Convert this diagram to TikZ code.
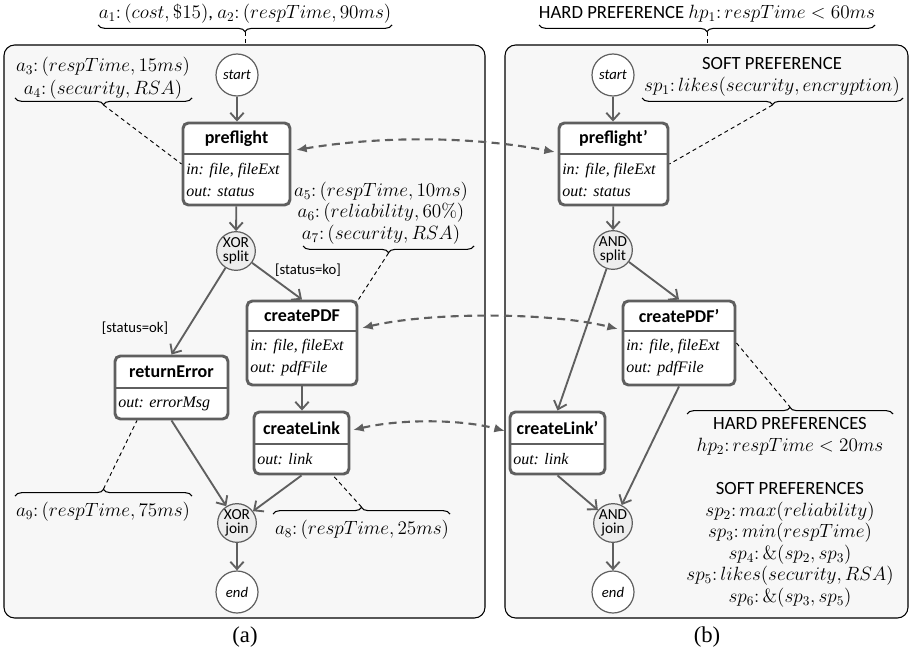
\documentclass[tikz,border=0pt]{standalone}
\usepackage[no-math]{fontspec}
\setmainfont{Carlito}
\newfontfamily\tms{Liberation Serif}
\usetikzlibrary{arrows.meta,decorations.pathreplacing,fit,calc}
\definecolor{dg}{HTML}{5F5F5F}
\definecolor{panelc}{HTML}{F7F7F7}
\definecolor{gatec}{HTML}{EDEDED}
\newcommand{\prm}{{\char"27}}
\tikzset{
 panelbox/.style={draw=black, line width=0.8pt, fill=panelc, rounded corners=8pt, inner sep=0pt},
 svc/.style={draw=dg, line width=2.2pt, fill=white, rounded corners=4pt, inner sep=0pt},
 sepline/.style={draw=dg, line width=1.5pt},
 svctitle/.style={font=\fontsize{13.5}{15}\selectfont\bfseries, inner sep=0pt},
 svcbody/.style={font=\tms\itshape\fontsize{12}{16.5}\selectfont, align=left, anchor=west, inner sep=0pt},
 eventc/.style={circle, draw=dg, line width=0.9pt, fill=white, minimum size=31.5pt, inner sep=0pt, font=\fontsize{11}{12}\selectfont\itshape},
 gatenode/.style={circle, draw=dg, line width=0.9pt, fill=gatec, minimum size=29pt, inner sep=0pt, align=center, font=\fontsize{11.5}{10.5}\selectfont},
 flow/.style={draw=dg, line width=1.4pt, -{Straight Barb[length=5.5pt,width=10pt,line width=1.4pt]}},
 linkarrow/.style={draw=dg, line width=1.6pt, dash pattern=on 6pt off 4pt, {Latex[length=8pt,width=6.5pt]}-{Latex[length=8pt,width=6.5pt]}},
 annot/.style={draw=black, line width=0.7pt, dash pattern=on 3pt off 2.5pt},
 bracedown/.style={draw=black, decorate, decoration={brace, mirror, amplitude=5pt}, line width=0.8pt},
 braceup/.style={draw=black, decorate, decoration={brace, amplitude=5pt}, line width=0.8pt},
 mtext/.style={font=\fontsize{14}{17}\selectfont, align=center, inner sep=0pt},
 guard/.style={font=\fontsize{11}{13}\selectfont, inner sep=0pt},
 capt/.style={font=\tms\fontsize{17}{20}\selectfont, inner sep=0pt},
}
\newcommand{\svcbox}[8]{%
  \node[svc, fit={(#2,#3) (#4,#5)}] (#1) {};
  \draw[sepline] (#2,#6) -- (#4,#6);
  \node[svctitle] (#1-t) at ({(#2+#4)/2},{(#3+#6)/2}) {#7};
  \node[svcbody] (#1-b) at ({#2+3},{(#6+#5)/2}) {#8};
}
\begin{document}
\begin{tikzpicture}[x=0.75pt,y=-0.75pt]
\useasboundingbox (0,0) rectangle (909,656);
% panels
\node[panelbox, fit={(4,45) (485,618)}] (pa) {};
\node[panelbox, fit={(505,45) (908,618)}] (pb) {};

% ===== left panel =====
\node[eventc] (s1) at (237,75) {start};
\svcbox{pre}{183}{123}{290}{205}{154}{preflight}{in: file, fileExt\\out: status}
\node[gatenode] (x1) at (236,251) {XOR\\split};
\svcbox{pdf}{247}{301}{357}{385}{331}{createPDF}{in: file, fileExt\\out: pdfFile}
\svcbox{err}{115}{356}{228}{419}{388}{returnError}{out: errorMsg}
\svcbox{lnk}{254}{412}{349}{474}{444}{createLink}{out: link}
\node[gatenode] (x2) at (237,523) {XOR\\join};
\node[eventc] (e1) at (237,592) {end};

\draw[flow] (s1) -- (s1 |- pre.north);
\draw[flow] (pre) -- (x1);
\draw[flow] (x1) -- (err.north);
\draw[flow] (x1) -- (pdf.north);
\draw[flow] (pdf.south) -- (pdf.south |- lnk.north);
\draw[flow] (err.south) -- (x2);
\draw[flow] (lnk.south) -- (x2);
\draw[flow] (x2) -- (e1);

\node[guard] (g1) at (135,328) {[status=ok]};
\node[guard] (g2) at (308,270) {[status=ko]};

% ===== right panel =====
\node[eventc] (s2) at (613,75) {start};
\svcbox{pre2}{559}{123}{668}{205}{154}{preflight\prm}{in: file, fileExt\\out: status}
\node[gatenode] (y1) at (613,250) {AND\\split};
\svcbox{pdf2}{623}{301}{735}{385}{331}{createPDF\prm}{in: file, fileExt\\out: pdfFile}
\svcbox{lnk2}{510}{412}{605}{474}{444}{createLink\prm}{out: link}
\node[gatenode] (y2) at (613,523) {AND\\join};
\node[eventc] (e2) at (613,592) {end};

\draw[flow] (s2) -- (s2 |- pre2.north);
\draw[flow] (pre2) -- (y1);
\draw[flow] (y1) -- (pdf2.north);
\draw[flow] (y1) -- (lnk2.north);
\draw[flow] (pdf2.south) -- (y2);
\draw[flow] (lnk2.south) -- (y2);
\draw[flow] (y2) -- (e2);

% ===== correspondences =====
\draw[linkarrow] (296,150) .. controls (380,136) and (470,136) .. (555,152);
\draw[linkarrow] (362,328) .. controls (430,312) and (550,312) .. (618,329);
\draw[linkarrow] (353,430) .. controls (400,419) and (460,419) .. (505,431);

% ===== annotations left =====
\node[mtext] (t1) at (245,14) {$a_1{:}\,(cost,\$15)$, $a_2{:}\,(respTime,90ms)$};
\draw[bracedown] (98,25) -- (392,25);
\coordinate (b1) at (245,32);
\draw[annot] (b1) -- (b1 |- pa.north);

\node[mtext] (t3) at (103,78) {$a_3{:}\,(respTime,15ms)$\\$a_4{:}\,(security,RSA)$};
\draw[bracedown] (15,98) -- (192,98);
\coordinate (b3) at (103.5,105);
\draw[annot] (b3) -- (pre.west);

\node[mtext, font=\fontsize{14}{16.2}\selectfont] (t5) at (381,213) {$a_5{:}\,(respTime,10ms)$\\$a_6{:}\,(reliability,60\%)$\\$a_7{:}\,(security,RSA)$};
\draw[bracedown] (303,246) -- (474,246);
\coordinate (b5) at (388.5,253);
\draw[annot] (b5) -- (pdf.north east);

\node[mtext] (t9) at (103,512) {$a_9{:}\,(respTime,75ms)$};
\draw[braceup] (15,496) -- (192,496);
\coordinate (b9) at (103.5,489);
\draw[annot] (b9) -- (137,0 |- err.south);

\node[mtext] (t8) at (362,530) {$a_8{:}\,(respTime,25ms)$};
\draw[braceup] (273,514) -- (450,514);
\coordinate (b8) at (361.5,507);
\draw[annot] (b8) -- (333,0 |- lnk.south);

% ===== annotations right =====
\node[mtext] (t2) at (707,14) {HARD PREFERENCE $hp_1{:}\,respTime<60ms$};
\draw[bracedown] (539,25) -- (875,25);
\coordinate (b2) at (707,32);
\draw[annot] (b2) -- (b2 |- pb.north);

\node[mtext] (tsp) at (772,77) {SOFT PREFERENCE\\$sp_1{:}\,likes(security,encryption)$};
\draw[bracedown] (642,98) -- (903,98);
\coordinate (bsp) at (772.5,105);
\draw[annot] (bsp) -- (pre2.east);

\draw[braceup] (687,414) -- (893,414);
\coordinate (bhp) at (790,407);
\draw[annot] (pdf2.east) -- (bhp);
\node[mtext, font=\fontsize{14}{16.2}\selectfont] (thp) at (790,512.5) {HARD PREFERENCES\\$hp_2{:}\,respTime<20ms$\\[16.2pt]SOFT PREFERENCES\\$sp_2{:}\,max(reliability)$\\$sp_3{:}\,min(respTime)$\\$sp_4{:}\,\&(sp_2,sp_3)$\\$sp_5{:}\,likes(security,RSA)$\\$sp_6{:}\,\&(sp_3,sp_5)$};

% captions
\node[capt] (ca) at (245,637) {(a)};
\node[capt] (cb) at (707,637) {(b)};
\end{tikzpicture}
\end{document}
